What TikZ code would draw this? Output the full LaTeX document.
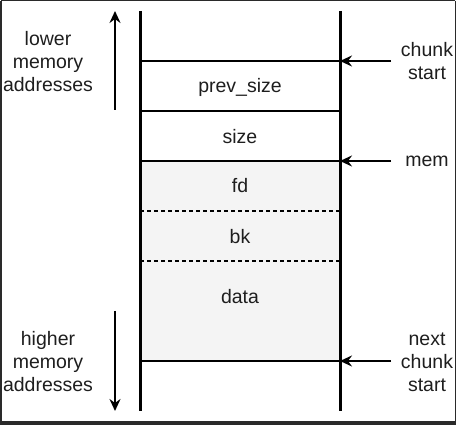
\documentclass[tikz,border=0pt]{standalone}
\usepackage{fontspec}
\setmainfont{Liberation Sans}
\usetikzlibrary{arrows.meta}
\definecolor{framec}{HTML}{2A2A2A}
\definecolor{fillc}{HTML}{F4F4F4}
\definecolor{textc}{HTML}{1E1E1E}
\begin{document}
\begin{tikzpicture}[x=1pt,y=-1pt,
  lbl/.style={font=\fontsize{19.5}{23}\selectfont, align=center, inner sep=0pt, text=textc},
  wall/.style={line width=3pt},
  sep/.style={line width=1.2pt},
  dsep/.style={line width=1.1pt, dash pattern=on 4pt off 3pt},
  ptr/.style={line width=2pt, -{Stealth[length=12pt,width=11pt,inset=4pt]}}]
\useasboundingbox (0,0) rectangle (456,425);
\fill[white] (0,0) rectangle (456,425);
\fill[fillc] (140,161) rectangle (340,361);
% frame
\draw[framec, line width=1.5pt] (0.75,0.75) -- (455.25,0.75);
\draw[framec, line width=1.5pt] (0.75,0.75) -- (0.75,421);
\draw[framec, line width=1.5pt] (455.25,0.75) -- (455.25,421);
\fill[framec] (0,421) rectangle (456,425);
% separators
\coordinate (l1) at (140,61); \coordinate (r1) at (340,61);
\coordinate (l2) at (140,111); \coordinate (r2) at (340,111);
\coordinate (l3) at (140,161); \coordinate (r3) at (340,161);
\coordinate (l4) at (140,211); \coordinate (r4) at (340,211);
\coordinate (l5) at (140,261); \coordinate (r5) at (340,261);
\coordinate (l6) at (140,361); \coordinate (r6) at (340,361);
\draw[sep] (l1) -- (r1);
\draw[sep] (l2) -- (r2);
\draw[sep] (l3) -- (r3);
\draw[dsep] (l4) -- (r4);
\draw[dsep] (l5) -- (r5);
\draw[sep] (l6) -- (r6);
% walls
\coordinate (lt) at (140,11); \coordinate (lb) at (140,411);
\coordinate (rt) at (340,11); \coordinate (rb) at (340,411);
\draw[wall] (lt) -- (lb);
\draw[wall] (rt) -- (rb);
% field labels
\node[lbl] (prev) at (240,87) {prev\_size};
\node[lbl] (size) at (240,137) {size};
\node[lbl] (fd) at (240,186) {fd};
\node[lbl] (bk) at (240,237) {bk};
\node[lbl] (data) at (240,297) {data};
% left side
\node[lbl] (lower) at (48,62) {lower\\memory\\addresses};
\node[lbl] (higher) at (48,362) {higher\\memory\\addresses};
\coordinate (ua0) at (115,110); \coordinate (ua1) at (115,11);
\coordinate (da0) at (115,311); \coordinate (da1) at (115,411);
\draw[ptr] (ua0) -- (ua1);
\draw[ptr] (da0) -- (da1);
% right side
\node[lbl] (cs) at (427,61) {chunk\\start};
\node[lbl] (mem) at (427,161) {mem};
\node[lbl] (ncs) at (427,362) {next\\chunk\\start};
\coordinate (a1) at (391,61);
\coordinate (a2) at (391,161);
\coordinate (a3) at (391,361);
\draw[ptr] (a1) -- (r1);
\draw[ptr] (a2) -- (r3);
\draw[ptr] (a3) -- (r6);
\end{tikzpicture}
\end{document}
